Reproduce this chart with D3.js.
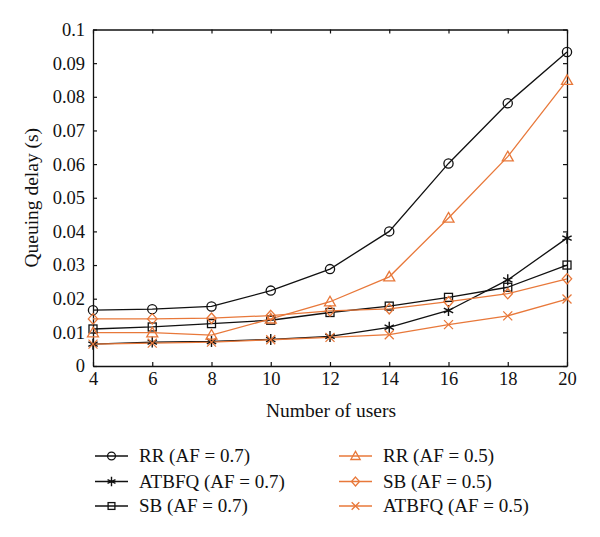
<!DOCTYPE html>
<html><head><meta charset="utf-8">
<script src="https://cdn.jsdelivr.net/npm/d3@7"></script>
<style>body{margin:0;background:#fff}svg{display:block}</style>
</head><body><svg id="c" width="600" height="537"></svg>
<script>
const users = [4,6,8,10,12,14,16,18,20];
const yTicks = [0,0.01,0.02,0.03,0.04,0.05,0.06,0.07,0.08,0.09,0.1];
const rr07    = [0.0166,0.0169,0.0177,0.0224,0.0288,0.0400,0.0602,0.0781,0.0933];
const atbfq07 = [0.0065,0.0071,0.0073,0.0079,0.0088,0.0115,0.0165,0.0256,0.0380];
const sb07    = [0.0110,0.0116,0.0126,0.0136,0.0159,0.0178,0.0204,0.0234,0.0300];
const rr05    = [0.0099,0.0099,0.0092,0.0140,0.0191,0.0265,0.0440,0.0622,0.0849];
const sb05    = [0.0140,0.0140,0.0142,0.0150,0.0164,0.0170,0.0191,0.0215,0.0259];
const atbfq05 = [0.0065,0.0068,0.0071,0.0078,0.0085,0.0093,0.0123,0.0149,0.0199];
const names = ["RR (AF = 0.7)","ATBFQ (AF = 0.7)","SB (AF = 0.7)","RR (AF = 0.5)","SB (AF = 0.5)","ATBFQ (AF = 0.5)"];

const FONT = "Liberation Serif, DejaVu Serif, serif";
const BLACK="#111", ORANGE="#E8783A";
const series = [
  {name:names[0], v:rr07, c:BLACK, m:"circle"},
  {name:names[1], v:atbfq07, c:BLACK, m:"asterisk"},
  {name:names[2], v:sb07, c:BLACK, m:"square"},
  {name:names[3], v:rr05, c:ORANGE, m:"triangle"},
  {name:names[4], v:sb05, c:ORANGE, m:"diamond"},
  {name:names[5], v:atbfq05, c:ORANGE, m:"cross"}
];

const svg = d3.select("#c");
const L=93, R=567, T=29.5, B=366;
const x = d3.scaleLinear().domain([4,20]).range([L,R]);
const y = d3.scaleLinear().domain([0,0.1]).range([B,T]);
const fmt = d => d===0 ? "0" : String(+d.toFixed(2));

function styleAxis(g){
  g.attr("font-family",FONT).attr("font-size",18.5);
  g.select(".domain").attr("stroke","#111").attr("stroke-width",1.3);
  g.selectAll(".tick line").attr("stroke","#111").attr("stroke-width",1.2);
  g.selectAll("text").attr("fill","#111");
}
svg.append("g").attr("transform",`translate(0,${B})`)
  .call(d3.axisBottom(x).tickValues(users).tickSizeInner(-4).tickSizeOuter(0).tickPadding(6).tickFormat(d3.format("d")))
  .call(styleAxis);
svg.append("g").attr("transform",`translate(0,${T})`)
  .call(d3.axisTop(x).tickValues(users).tickSizeInner(-4).tickSizeOuter(0).tickFormat(""))
  .call(styleAxis);
svg.append("g").attr("transform",`translate(${L},0)`)
  .call(d3.axisLeft(y).tickValues(yTicks).tickSizeInner(-4).tickSizeOuter(0).tickPadding(8).tickFormat(fmt))
  .call(styleAxis);
svg.append("g").attr("transform",`translate(${R},0)`)
  .call(d3.axisRight(y).tickValues(yTicks).tickSizeInner(-4).tickSizeOuter(0).tickFormat(""))
  .call(styleAxis);

svg.append("text").attr("x",(L+R)/2+1).attr("y",417).attr("text-anchor","middle")
  .attr("font-family",FONT).attr("font-size",19.5).attr("fill","#111").text("Number of users");
svg.append("text").attr("transform",`translate(38,${(T+B)/2}) rotate(-90)`).attr("text-anchor","middle")
  .attr("font-family",FONT).attr("font-size",19.5).attr("fill","#111").text("Queuing delay (s)");

function marker(g, type, cx, cy, col, s){
  s = s||1;
  const a = {fill:"none", stroke:col, "stroke-width":1.3};
  let e;
  if(type==="circle"){ e=g.append("circle").attr("cx",cx).attr("cy",cy).attr("r",4.6*s); }
  else if(type==="square"){ const h=4*s; e=g.append("rect").attr("x",cx-h).attr("y",cy-h).attr("width",2*h).attr("height",2*h); }
  else if(type==="triangle"){ const h=5.5*s; e=g.append("path").attr("d",`M${cx},${cy-h}L${cx+h},${cy+h*0.75}L${cx-h},${cy+h*0.75}Z`); }
  else if(type==="diamond"){ const h=5.2*s; e=g.append("path").attr("d",`M${cx},${cy-h}L${cx+h*0.9},${cy}L${cx},${cy+h}L${cx-h*0.9},${cy}Z`); }
  else if(type==="cross"){ const h=4.5*s; e=g.append("path").attr("d",`M${cx-h},${cy-h}L${cx+h},${cy+h}M${cx-h},${cy+h}L${cx+h},${cy-h}`); }
  else if(type==="asterisk"){ const h=5.5*s, d=h*0.85; e=g.append("path").attr("d",`M${cx},${cy-h}L${cx},${cy+h}M${cx-d},${cy-d*0.5}L${cx+d},${cy+d*0.5}M${cx-d},${cy+d*0.5}L${cx+d},${cy-d*0.5}`); a["stroke-width"]=1.4; }
  for(const k in a) e.attr(k,a[k]);
}

const line = d3.line().x((d,i)=>x(users[i])).y(d=>y(d));
const plot = svg.append("g");
series.forEach(s=>{
  plot.append("path").datum(s.v).attr("d",line).attr("fill","none").attr("stroke",s.c).attr("stroke-width",1.3);
});
series.forEach(s=>{
  s.v.forEach((v,i)=>marker(plot, s.m, x(users[i]), y(v), s.c));
});

// legend
const leg = svg.append("g");
const rowsY=[456,481.5,506];
series.forEach((s,i)=>{
  const col = i<3?0:1, r=i%3;
  const x0 = col===0?95:339, cy=rowsY[r];
  leg.append("line").attr("x1",x0).attr("x2",x0+33).attr("y1",cy).attr("y2",cy).attr("stroke",s.c).attr("stroke-width",1.3);
  marker(leg, s.m, x0+16.5, cy, s.c, 0.85);
  leg.append("text").attr("x",x0+44).attr("y",cy+6).attr("font-family",FONT).attr("font-size",19).attr("fill","#111").text(s.name);
});
</script></body></html>
